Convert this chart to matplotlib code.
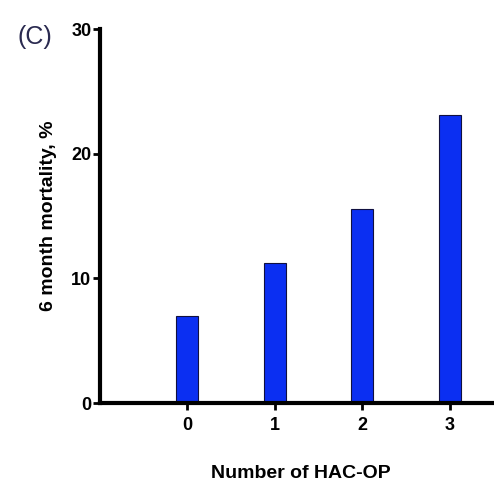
import matplotlib
matplotlib.use("Agg")
import matplotlib.pyplot as plt

# HAC-OP count vs 6 month mortality
categories = [0, 1, 2, 3]
tick_labels = ["0", "1", "2", "3"]
mortality = [7.0, 11.2, 15.6, 23.1]

plt.rcParams['font.family'] = ['Liberation Sans', 'DejaVu Sans']

fig = plt.figure(figsize=(4.94, 4.84), dpi=100)
ax = fig.add_axes([0.202, 0.167, 0.815, 0.773])

ax.bar(categories, mortality, width=0.25, color='#0b2ff2',
       edgecolor='#101040', linewidth=0.8, zorder=2)

ax.set_xlim(-1.0, 3.6)
ax.set_ylim(0, 30)
ax.set_yticks([0, 10, 20, 30])
ax.set_xticks(categories)
ax.set_xticklabels(tick_labels)

for side in ['top', 'right']:
    ax.spines[side].set_visible(False)
for side in ['left', 'bottom']:
    ax.spines[side].set_linewidth(3)
ax.spines['bottom'].set_zorder(3)

ax.tick_params(axis='both', direction='out', length=5, width=2,
               labelsize=13, pad=1)
ax.tick_params(axis='x', pad=5)
for lbl in ax.get_xticklabels() + ax.get_yticklabels():
    lbl.set_fontweight('bold')

ax.set_ylabel('6 month mortality, %', fontsize=14, fontweight='bold', labelpad=10)
ax.set_xlabel('Number of HAC-OP', fontsize=14, fontweight='bold', labelpad=22)

fig.text(0.035, 0.924, '(C)', fontsize=18, color='#2a2a50', ha='left', va='center')

fig.savefig('out.png', dpi=100)
